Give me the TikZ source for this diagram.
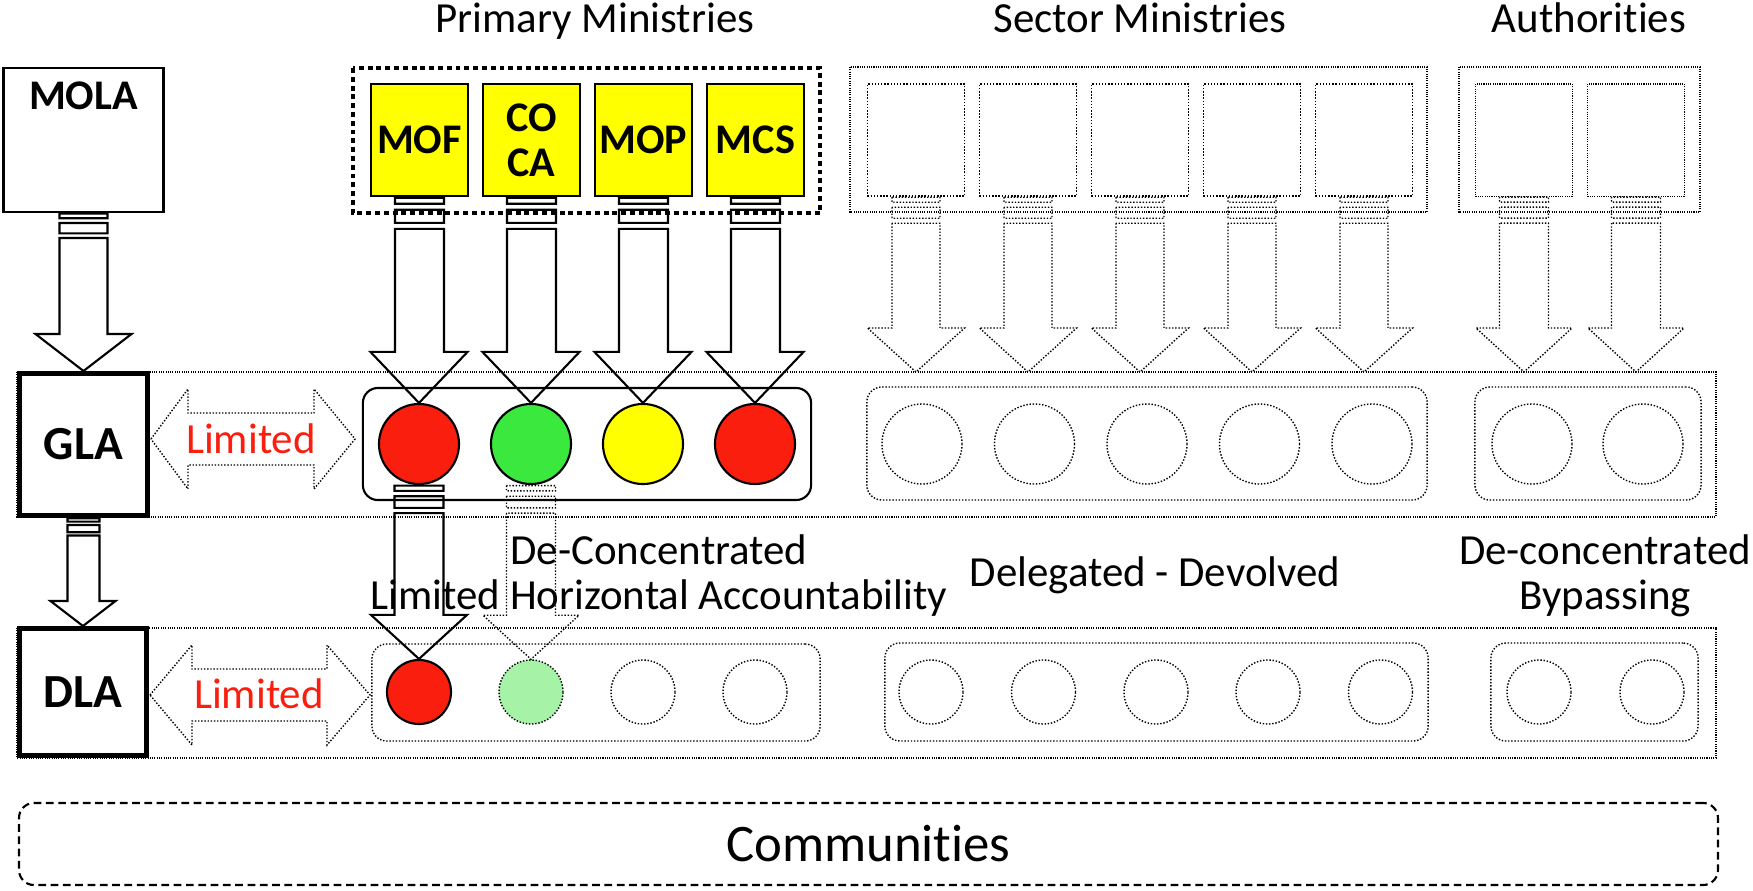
\documentclass[tikz,border=0pt]{standalone}
\usepackage{fontspec}
\setmainfont{Carlito}[Ligatures=NoCommon]
\usetikzlibrary{calc}
\definecolor{tlred}{HTML}{FA1E0E}
\definecolor{tlgreen}{HTML}{3AE83E}
\definecolor{tlpale}{HTML}{A6F2A6}
\definecolor{tlyellow}{HTML}{FFFF00}
\tikzset{
  lbl/.style={font=\fontsize{12.2}{12.8}\selectfont},
  boxlbl/.style={font=\bfseries\fontsize{12}{12.8}\selectfont},
  solidline/.style={line width=0.6pt},
  dotline/.style={line width=0.4pt, dash pattern=on 0.4pt off 0.5pt},
  fineline/.style={line width=0.3pt, dash pattern=on 0.3pt off 0.35pt},
  ministry/.style={draw, solidline, minimum width=0.97cm, minimum height=1.12cm, inner sep=0pt},
  primary/.style={ministry, fill=tlyellow, boxlbl},
  sector/.style={ministry, dotline},
  authority/.style={ministry, fineline},
  tier/.style={draw, line width=1.4pt, fill=white, font=\bfseries\fontsize{13.5}{14}\selectfont},
  lamp/.style={circle, draw, solidline, minimum size=0.8cm, inner sep=0pt},
  smalllamp/.style={lamp, minimum size=0.64cm},
  lampgroup/.style={draw, solidline, rounded corners=0.15cm, inner sep=0pt},
}
\newcommand{\fatarrow}[7]{%
  \draw[#1] let \p1=(#2), \p2=(#3) in
    ({\x1-#4},{\y1-0.1*#7}) rectangle ({\x1+#4},{\y1-1.1*#7})
    ({\x1-#4},{\y1-2.1*#7}) rectangle ({\x1+#4},{\y1-4.3*#7})
    ({\x1-#4},{\y1-5.3*#7}) -- ({\x1-#4},{\y2+#6}) -- ({\x2-#5},{\y2+#6})
    -- (\x2,\y2) -- ({\x2+#5},{\y2+#6}) -- ({\x1+#4},{\y2+#6})
    -- ({\x1+#4},{\y1-5.3*#7}) -- cycle;}
\begin{document}
\begin{tikzpicture}[x=0.01cm, y=-0.01cm]
\useasboundingbox (0,0) rectangle (1753,890);
\node[lbl, anchor=base] (tprim) at (595,32) {Primary Ministries};
\node[lbl, anchor=base] (tsect) at (1140,32) {Sector Ministries};
\node[lbl, anchor=base] (tauth) at (1589,32) {Authorities};
\draw[fineline] (17,372) rectangle (1716,517);
\draw[fineline] (17,628) rectangle (1716,758);
\coordinate (gtop) at (0,372);
\node[ministry, minimum width=1.6cm, minimum height=1.44cm, label={[boxlbl, anchor=north, inner sep=0pt, yshift=-0.14cm]north:MOLA}] (mola) at (83.5,140) {};
\node[tier, minimum width=1.28cm, minimum height=1.42cm] (gla) at (83.5,444.5) {GLA};
\node[tier, minimum width=1.27cm, minimum height=1.27cm] (dla) at (83,692) {DLA};
\node[primary] (mof) at (419.5,140) {MOF};
\node[primary, align=center] (coca) at (531.5,140) {CO\\CA};
\node[primary] (mop) at (643.5,140) {MOP};
\node[primary] (mcs) at (755.5,140) {MCS};
\draw[line width=1.4pt, dash pattern=on 1.4pt off 1.1pt] (353,68) rectangle (820,213);
\node[sector] (s1) at (916,140) {};
\node[sector] (s2) at (1028,140) {};
\node[sector] (s3) at (1140,140) {};
\node[sector] (s4) at (1252,140) {};
\node[sector] (s5) at (1364,140) {};
\draw[fineline] (850,67) rectangle (1427,212);
\node[authority] (a1) at (1524,140) {};
\node[authority] (a2) at (1636,140) {};
\draw[fineline] (1459,67) rectangle (1700,212);
\node[lampgroup, minimum width=4.48cm, minimum height=1.12cm] (pg) at (587,444) {};
\node[lamp, fill=tlred] (g1) at (419,444) {};
\node[lamp, fill=tlgreen] (g2) at (531,444) {};
\node[lamp, fill=tlyellow] (g3) at (643,444) {};
\node[lamp, fill=tlred] (g4) at (755,444) {};
\node[lampgroup, dotline, minimum width=5.6cm, minimum height=1.13cm] (sg) at (1147,443.5) {};
\node[lamp, dotline] (gs1) at (922,444) {};
\node[lamp, dotline] (gs2) at (1034.5,444) {};
\node[lamp, dotline] (gs3) at (1147,444) {};
\node[lamp, dotline] (gs4) at (1259.5,444) {};
\node[lamp, dotline] (gs5) at (1372,444) {};
\node[lampgroup, dotline, minimum width=2.26cm, minimum height=1.13cm] (ag) at (1588,443.5) {};
\node[lamp, dotline] (ga1) at (1532,444) {};
\node[lamp, dotline] (ga2) at (1643,444) {};
\node[lampgroup, dotline, minimum width=4.48cm, minimum height=0.97cm] (pd) at (596,692.5) {};
\node[smalllamp, fill=tlred] (d1) at (419,692) {};
\node[smalllamp, dotline, fill=tlpale] (d2) at (531,692) {};
\node[smalllamp, dotline] (d3) at (643,692) {};
\node[smalllamp, dotline] (d4) at (755,692) {};
\node[lampgroup, dotline, minimum width=5.43cm, minimum height=0.98cm] (sd) at (1156.5,692) {};
\node[smalllamp, dotline] (ds1) at (931,692) {};
\node[smalllamp, dotline] (ds2) at (1043.5,692) {};
\node[smalllamp, dotline] (ds3) at (1156,692) {};
\node[smalllamp, dotline] (ds4) at (1268,692) {};
\node[smalllamp, dotline] (ds5) at (1380.5,692) {};
\node[lampgroup, dotline, minimum width=2.07cm, minimum height=0.98cm] (ad) at (1594.5,692) {};
\node[smalllamp, dotline] (da1) at (1539,692) {};
\node[smalllamp, dotline] (da2) at (1652,692) {};
\fatarrow{solidline}{mola.south}{gla.north}{0.24cm}{0.48cm}{0.37cm}{0.047cm}
\fatarrow{solidline}{gla.south}{dla.north}{0.16cm}{0.325cm}{0.25cm}{0.033cm}
\fatarrow{solidline}{mof.south}{g1.north}{0.245cm}{0.485cm}{0.51cm}{0.06cm}
\fatarrow{solidline}{coca.south}{g2.north}{0.245cm}{0.485cm}{0.51cm}{0.06cm}
\fatarrow{solidline}{mop.south}{g3.north}{0.245cm}{0.485cm}{0.51cm}{0.06cm}
\fatarrow{solidline}{mcs.south}{g4.north}{0.245cm}{0.485cm}{0.51cm}{0.06cm}
\fatarrow{solidline}{g1.south}{d1.north}{0.245cm}{0.48cm}{0.44cm}{0.053cm}
\fatarrow{dotline}{g2.south}{d2.north}{0.245cm}{0.48cm}{0.44cm}{0.053cm}
\fatarrow{dotline}{s1.south}{s1.south |- gtop}{0.24cm}{0.485cm}{0.44cm}{0.05cm}
\fatarrow{dotline}{s2.south}{s2.south |- gtop}{0.24cm}{0.485cm}{0.44cm}{0.05cm}
\fatarrow{dotline}{s3.south}{s3.south |- gtop}{0.24cm}{0.485cm}{0.44cm}{0.05cm}
\fatarrow{dotline}{s4.south}{s4.south |- gtop}{0.24cm}{0.485cm}{0.44cm}{0.05cm}
\fatarrow{dotline}{s5.south}{s5.south |- gtop}{0.24cm}{0.485cm}{0.44cm}{0.05cm}
\fatarrow{dotline}{a1.south}{a1.south |- gtop}{0.245cm}{0.48cm}{0.44cm}{0.05cm}
\fatarrow{dotline}{a2.south}{a2.south |- gtop}{0.245cm}{0.48cm}{0.44cm}{0.05cm}
\draw[dotline] (151,439) -- (188,389) -- (188,413) -- (314,413) -- (314,389) -- (355,439) -- (314,489) -- (314,465) -- (188,465) -- (188,489) -- cycle;
\node[lbl, text=tlred, anchor=base] (limg) at (251,453) {Limited};
\draw[dotline] (150,695) -- (192,645) -- (192,669) -- (327,669) -- (327,645) -- (370,695) -- (327,745) -- (327,721) -- (192,721) -- (192,745) -- cycle;
\node[lbl, text=tlred, anchor=base] (limd) at (259,708) {Limited};
\node[lbl, align=center] (dcl) at (659,576) {De-Concentrated\\Limited Horizontal Accountability};
\node[lbl, anchor=base] (dd) at (1155,586) {Delegated - Devolved};
\node[lbl, align=center] (dcb) at (1605,575.5) {De-concentrated\\Bypassing};
\node[draw, line width=0.6pt, dash pattern=on 2.2pt off 1.3pt, rounded corners=0.15cm, minimum width=16.98cm, minimum height=0.82cm, font=\fontsize{15}{16}\selectfont] (comm) at (868.5,844) {Communities};
\end{tikzpicture}
\end{document}
